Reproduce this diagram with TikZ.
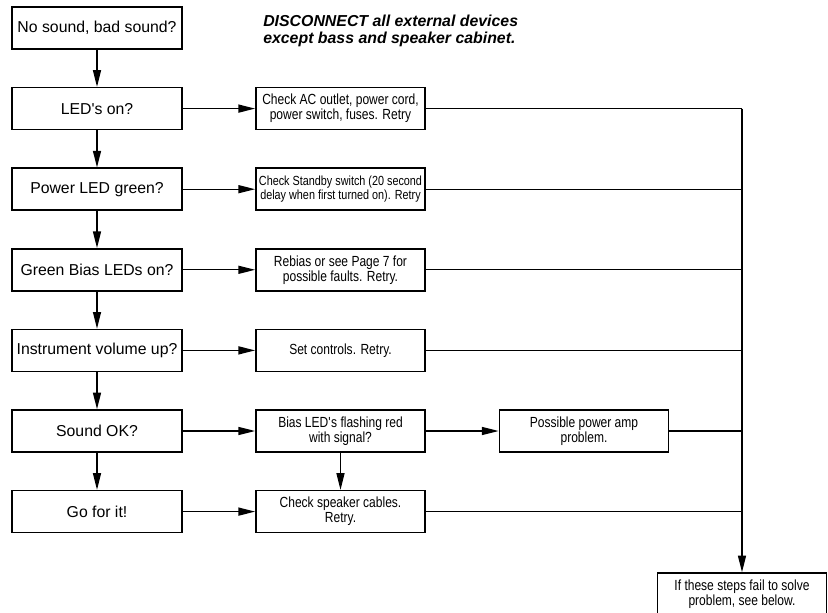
\documentclass[tikz,border=0pt]{standalone}
\usepackage{fontspec}
\setmainfont{Liberation Sans}
\newfontfamily\smalfont[FakeStretch=0.82]{Liberation Sans}
\usetikzlibrary{arrows.meta}

\begin{document}
\begin{tikzpicture}[x=0.75pt,y=-0.75pt,
		>={Triangle[length=12.5pt,width=6pt]},
		vraag/.style={draw,line width=1.1pt,minimum width=127.5pt,minimum height=31.5pt,inner sep=0pt,font=\fontsize{11.85}{14}\selectfont},
		actie/.style={draw,line width=1.1pt,minimum width=127pt,minimum height=31.5pt,inner sep=0pt,align=center,font=\smalfont\fontsize{11}{11.25}\selectfont},
		lijn/.style={line width=1pt}]

		\useasboundingbox (0,0) rectangle (828,613);

		% Opmerking bovenaan
		\node[anchor=north west,inner sep=0pt,align=left,font=\bfseries\itshape\fontsize{11.9}{12.2}\selectfont] (los) at (263,15) {DISCONNECT all external devices\\except bass and speaker cabinet.};

		% Vragen (linkerkolom)
		\node[vraag] (geluid) at (97,28) {No sound, bad sound?};
		\node[vraag] (leds) at (97,108.6) {LED\textquotesingle s on?};
		\node[vraag] (power) at (97,189.2) {Power LED green?};
		\node[vraag] (bias) at (97,269.8) {Green Bias LEDs on?};
		\node[vraag] (volume) at (97,350.4) {Instrument volume up?};
		\node[vraag] (ok) at (97,431) {Sound OK?};
		\node[vraag] (gaan) at (97,511.6) {Go for it!};

		% Acties (rechterkolom)
		\node[actie] (net) at (340.5,108.6) {Check AC outlet, power cord,\\power switch, fuses. Retry};
		\node[actie,font=\smalfont\fontsize{9.9}{11}\selectfont] (standby) at (340.5,189.2) {Check Standby switch (20 second\\delay when first turned on). Retry};
		\node[actie] (rebias) at (340.5,269.8) {Rebias or see Page 7 for\\possible faults. Retry.};
		\node[actie] (regel) at (340.5,350.4) {Set controls. Retry.};
		\node[actie] (flits) at (340.5,431) {Bias LED\textquotesingle s flashing red\\with signal?};
		\node[actie] (kabels) at (340.5,511.6) {Check speaker cables.\\Retry.};
		\node[actie] (amp) at (584,431) {Possible power amp\\problem.};
		\node[actie] (verder) at (742,594) {If these steps fail to solve\\problem, see below.};

		% Pijlen
		\foreach \a/\b in {geluid/leds,leds/power,power/bias,bias/volume,volume/ok,ok/gaan}
			\draw[lijn,->] (\a) -- (\b);
		\foreach \a/\b in {leds/net,power/standby,bias/rebias,volume/regel,ok/flits,gaan/kabels}
			\draw[lijn,->] (\a) -- (\b);
		\draw[lijn,->] (flits) -- (amp);
		\draw[lijn,->] (flits) -- (kabels);

		% Verzamellijn naar rechts
		\coordinate (boven) at (verder.north |- net.east);
		\foreach \b in {net,standby,rebias,regel,amp,kabels}
			\draw[lijn] (\b.east) -- (\b.east -| verder.north);
		\draw[lijn,->] (boven) -- (verder.north);

	\end{tikzpicture}
\end{document}
